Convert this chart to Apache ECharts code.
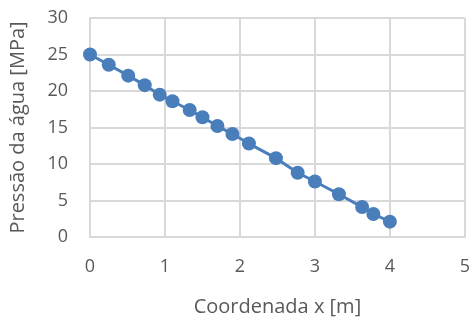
<!DOCTYPE html>
<html>
<head>
<meta charset="utf-8">
<script src="https://cdn.jsdelivr.net/npm/echarts@6/dist/echarts.min.js"></script>
<style>
  html, body { margin: 0; padding: 0; background: #fff; }
  #container { width: 473px; height: 322px; }
</style>
</head>
<body>
<div id="container"></div>
<script>
// dados
let xCoord = [0, 0.25, 0.51, 0.73, 0.93, 1.1, 1.33, 1.5, 1.7, 1.9, 2.12, 2.48, 2.77, 3.0, 3.32, 3.63, 3.78, 4.0];
let pressao = [25, 23.6, 22.1, 20.8, 19.5, 18.6, 17.4, 16.4, 15.2, 14.1, 12.8, 10.8, 8.8, 7.6, 5.85, 4.1, 3.15, 2.1];

let points = xCoord.map((x, i) => [x, pressao[i]]);

let fontFam = '"Open Sans", sans-serif';
let gridStyle = { color: '#d9d9d9', width: 2 };
let option = {
    animation: false,
    grid: { left: 90, right: 6, top: 18, bottom: 85 },
    xAxis: {
        type: 'value',
        min: 0, max: 5, interval: 1,
        name: 'Coordenada x [m]',
        nameLocation: 'middle',
        nameGap: 60,
        nameTextStyle: { color: '#595959', fontSize: 20, fontFamily: fontFam },
        axisLine: { show: true, lineStyle: gridStyle },
        axisTick: { show: false },
        axisLabel: { color: '#595959', fontSize: 18, fontFamily: fontFam, margin: 21 },
        splitLine: { show: true, lineStyle: gridStyle }
    },
    yAxis: {
        type: 'value',
        min: 0, max: 30, interval: 5,
        name: 'Pressão da água [MPa]',
        nameLocation: 'middle',
        nameGap: 62,
        nameTextStyle: { color: '#595959', fontSize: 20, fontFamily: fontFam },
        axisLine: { show: true, lineStyle: gridStyle },
        axisTick: { show: false },
        axisLabel: { color: '#595959', fontSize: 18, fontFamily: fontFam, margin: 22 },
        splitLine: { show: true, lineStyle: gridStyle }
    },
    series: [{
        type: 'line',
        data: points,
        symbol: 'circle',
        symbolSize: 14,
        lineStyle: { color: '#4a7ebb', width: 3 },
        itemStyle: { color: '#4a7ebb' }
    }]
};
let myChart = echarts.init(document.getElementById('container'));
myChart.setOption(option);
</script>
</body>
</html>
